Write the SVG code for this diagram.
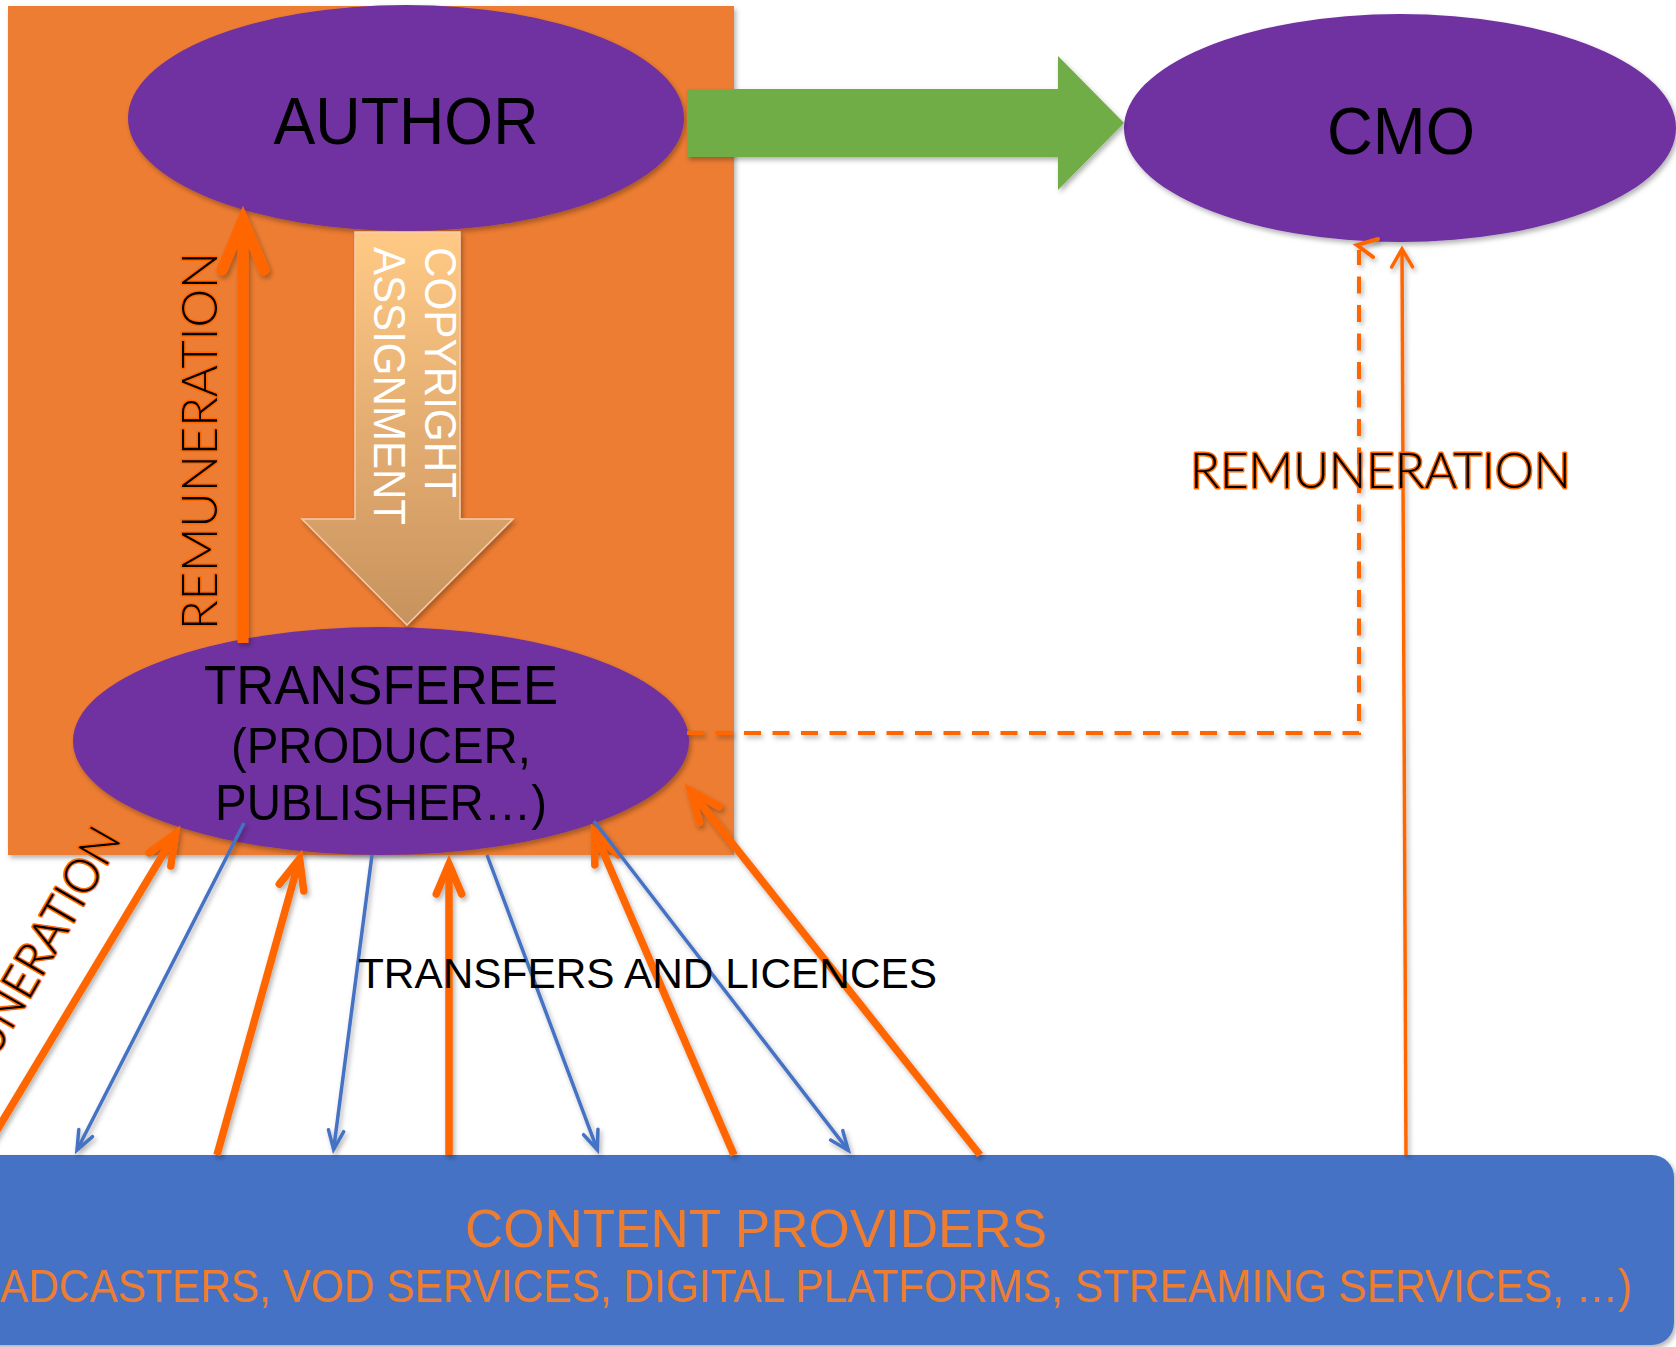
<svg xmlns="http://www.w3.org/2000/svg" width="1676" height="1347" viewBox="0 0 1676 1347">
  <defs>
    <!-- soft drop shadow shared by shapes and connectors -->
    <filter id="shadow" filterUnits="userSpaceOnUse" x="-100" y="-100" width="1900" height="1600">
      <feDropShadow dx="2" dy="3" stdDeviation="2.5" flood-color="#000" flood-opacity="0.3"/>
    </filter>
    <linearGradient id="copyGrad" x1="0" y1="232" x2="0" y2="625" gradientUnits="userSpaceOnUse">
      <stop offset="0" stop-color="#FFC985"/>
      <stop offset="1" stop-color="#C8925E"/>
    </linearGradient>
    <!-- open chevron heads -->
    <marker id="mOrange" markerUnits="userSpaceOnUse" viewBox="-40 -40 80 80" markerWidth="80" markerHeight="80" refX="0" refY="0" orient="auto" overflow="visible">
      <path d="M-30,-12.7 L0,0 L-30,12.7" fill="none" stroke="#FF6600" stroke-width="7.5" stroke-linecap="round" stroke-linejoin="miter"/>
    </marker>
    <marker id="mOrangeBig" markerUnits="userSpaceOnUse" viewBox="-60 -60 120 120" markerWidth="120" markerHeight="120" refX="0" refY="0" orient="auto" overflow="visible">
      <path d="M-50,-21 L0,0 L-50,21" fill="none" stroke="#FF6600" stroke-width="11" stroke-linecap="round" stroke-linejoin="miter"/>
    </marker>
    <marker id="mOrangeThin" markerUnits="userSpaceOnUse" viewBox="-30 -30 60 60" markerWidth="60" markerHeight="60" refX="0" refY="0" orient="auto" overflow="visible">
      <path d="M-18,-10.5 L0,0 L-18,10.5" fill="none" stroke="#FF6600" stroke-width="3.5" stroke-linecap="round" stroke-linejoin="miter"/>
    </marker>
    <marker id="mBlue" markerUnits="userSpaceOnUse" viewBox="-30 -30 60 60" markerWidth="60" markerHeight="60" refX="0" refY="0" orient="auto" overflow="visible">
      <path d="M-19,-7.7 L0,0 L-19,7.7" fill="none" stroke="#4472C4" stroke-width="3.5" stroke-linecap="round" stroke-linejoin="miter"/>
    </marker>
  </defs>
  <style>
    .ell { fill: #7030A0; }
    .lbl { font-family: "Liberation Sans", Arial, sans-serif; fill: #000; }
    .white { font-family: "Liberation Sans", Arial, sans-serif; fill: #FFFFFF; }
    .prov { font-family: "Liberation Sans", Arial, sans-serif; fill: #ED7D31; }
    .rem { font-family: Lato, "Liberation Sans", sans-serif; font-weight: 300; fill: #000; stroke: #FF6600; stroke-width: 3; paint-order: stroke; stroke-linejoin: round; }
    .thick { stroke: #FF6600; stroke-width: 7.5; fill: none; marker-end: url(#mOrange); }
    .blue { stroke: #4472C4; stroke-width: 3.5; fill: none; marker-end: url(#mBlue); }
  </style>

  <rect x="0" y="0" width="1676" height="1347" fill="#FFFFFF"/>

  <!-- orange frame grouping author and transferee -->
  <g id="frame" filter="url(#shadow)">
    <rect x="8" y="6" width="726" height="849" fill="#ED7D31"/>
  </g>

  <!-- content providers band -->
  <g id="node-content-providers">
    <rect x="-40" y="1155" width="1714" height="190" rx="22" fill="#4472C4" filter="url(#shadow)"/>
    <text class="prov" x="756" y="1247" font-size="54" text-anchor="middle" textLength="582" lengthAdjust="spacingAndGlyphs">CONTENT PROVIDERS</text>
    <text class="prov" x="-106" y="1302" font-size="47" textLength="1738" lengthAdjust="spacingAndGlyphs">(BROADCASTERS, VOD SERVICES, DIGITAL PLATFORMS, STREAMING SERVICES, …)</text>
  </g>

  <g id="node-author">
    <ellipse class="ell" cx="406" cy="118" rx="278" ry="113" filter="url(#shadow)"/>
    <text class="lbl" x="406" y="144" font-size="66" text-anchor="middle" textLength="265" lengthAdjust="spacingAndGlyphs">AUTHOR</text>
  </g>

  <g id="node-cmo">
    <ellipse class="ell" cx="1400" cy="128" rx="276" ry="114" filter="url(#shadow)"/>
    <text class="lbl" x="1401" y="154" font-size="66" text-anchor="middle" textLength="148" lengthAdjust="spacingAndGlyphs">CMO</text>
  </g>

  <g id="node-transferee">
    <ellipse class="ell" cx="381" cy="741" rx="308" ry="114" filter="url(#shadow)"/>
    <text class="lbl" x="381" y="704" font-size="56" text-anchor="middle" textLength="354" lengthAdjust="spacingAndGlyphs">TRANSFEREE</text>
    <text class="lbl" x="381" y="763" font-size="50" text-anchor="middle" textLength="300" lengthAdjust="spacingAndGlyphs">(PRODUCER,</text>
    <text class="lbl" x="381" y="820" font-size="50" text-anchor="middle" textLength="332" lengthAdjust="spacingAndGlyphs">PUBLISHER…)</text>
  </g>

  <g id="connectors" filter="url(#shadow)">
    <!-- author to CMO block arrow -->
    <polygon points="687,89 1058,89 1058,56 1124,123 1058,190 1058,157 687,157" fill="#70AD47"/>
    <!-- copyright assignment block arrow -->
    <polygon points="355,232 460,232 460,519 513,519 407,625 302,519 355,519" fill="url(#copyGrad)" stroke="#F8CBAD" stroke-width="1.5"/>
    <!-- remuneration transferee to author -->
    <path d="M243,643 L243,220" stroke="#FF6600" stroke-width="11" fill="none" marker-end="url(#mOrangeBig)"/>
    <!-- remuneration content providers to transferee -->
    <path class="thick" d="M-18,1155 L175.4,833.7"/>
    <path class="thick" d="M217,1155 L299.6,858.7"/>
    <path class="thick" d="M449,1155 L449,864"/>
    <path class="thick" d="M734,1155 L594.6,832.3"/>
    <path class="thick" d="M980,1155 L690.6,791"/>
    <!-- transfers and licences transferee to content providers -->
    <path class="blue" d="M244,823 L77,1150"/>
    <path class="blue" d="M372,855 L333.6,1149.5"/>
    <path class="blue" d="M487,855 L597.4,1149.8"/>
    <path class="blue" d="M594,821 L848.3,1150.4"/>
    <!-- remuneration content providers to CMO -->
    <path d="M1406,1155 L1402,249" stroke="#FF6600" stroke-width="3.5" fill="none" marker-end="url(#mOrangeThin)"/>
    <!-- dashed link transferee to CMO -->
    <path d="M687,733 H1359 V250" stroke="#FF6600" stroke-width="4" fill="none" stroke-dasharray="17 11.5"/>
    <path d="M1378,239 L1357,245 L1373,257" stroke="#FF6600" stroke-width="4" fill="none" stroke-linecap="round"/>
  </g>

  <g id="labels">
    <text class="white" transform="translate(425,247) rotate(90)" font-size="45" textLength="251" lengthAdjust="spacingAndGlyphs">COPYRIGHT</text>
    <text class="white" transform="translate(374,247) rotate(90)" font-size="45" textLength="278" lengthAdjust="spacingAndGlyphs">ASSIGNMENT</text>
    <text class="rem" transform="translate(217,630) rotate(-90)" font-size="49" textLength="378" lengthAdjust="spacingAndGlyphs">REMUNERATION</text>
    <text class="rem" transform="translate(-53,1142) rotate(-60)" font-size="47" textLength="350" lengthAdjust="spacingAndGlyphs">REMUNERATION</text>
    <text class="rem" x="1190" y="488" font-size="50" textLength="381" lengthAdjust="spacingAndGlyphs">REMUNERATION</text>
    <text class="lbl" x="358" y="988" font-size="43" textLength="579" lengthAdjust="spacingAndGlyphs">TRANSFERS AND LICENCES</text>
  </g>
</svg>
